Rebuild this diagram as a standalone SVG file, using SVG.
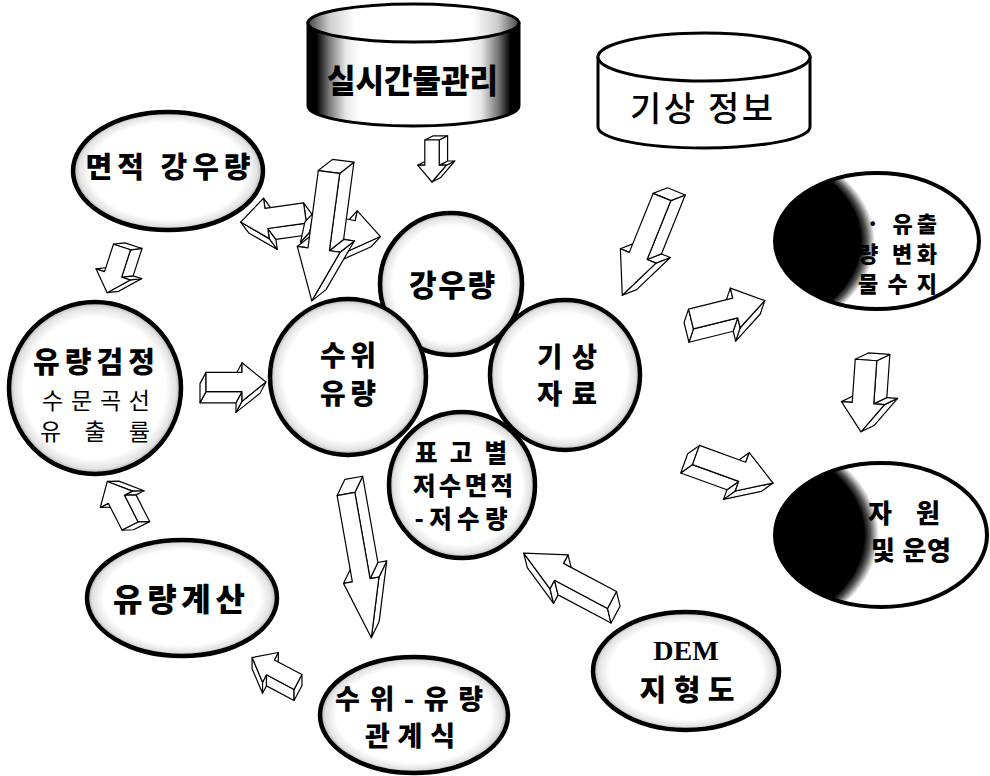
<svg xmlns="http://www.w3.org/2000/svg" width="990" height="776" viewBox="0 0 990 776">
<style>
.kb{font-family:"Noto Sans CJK KR","Noto Sans",sans-serif;font-weight:900;fill:#000}
.kr{font-family:"Noto Sans CJK KR","Noto Sans",sans-serif;font-weight:400;fill:#000}
.km{font-family:"Noto Sans CJK KR","Noto Sans",sans-serif;font-weight:500;fill:#000}
.sb{font-family:"Liberation Serif",serif;font-weight:700;fill:#000}
.nd{fill:url(#rim);stroke:#000;stroke-width:4.5}
.dk{stroke:#000;stroke-width:4}
.arw path{fill:#fff;stroke:#000;stroke-width:1.2;stroke-linejoin:round;vector-effect:non-scaling-stroke}
</style>
<defs>
<radialGradient id="rim" cx="0.5" cy="0.5" r="0.5">
<stop offset="0" stop-color="#fff"/><stop offset="0.82" stop-color="#fff"/><stop offset="0.94" stop-color="#e2e2e2"/><stop offset="1" stop-color="#a8a8a8"/>
</radialGradient>
<radialGradient id="dark" cx="-0.3" cy="0.5" r="1">
<stop offset="0" stop-color="#000"/><stop offset="0.72" stop-color="#000"/><stop offset="0.75" stop-color="#555"/><stop offset="0.79" stop-color="#fff"/><stop offset="1" stop-color="#fff"/>
</radialGradient>
<linearGradient id="cyl" x1="0" x2="1" y1="0" y2="0">
<stop offset="0" stop-color="#000"/><stop offset="0.04" stop-color="#000"/><stop offset="0.1" stop-color="#777"/><stop offset="0.18" stop-color="#e8e8e8"/><stop offset="0.25" stop-color="#fff"/><stop offset="0.75" stop-color="#fff"/><stop offset="0.82" stop-color="#e8e8e8"/><stop offset="0.9" stop-color="#777"/><stop offset="0.96" stop-color="#000"/><stop offset="1" stop-color="#000"/>
</linearGradient>
<linearGradient id="cyltop" x1="0" x2="1" y1="0" y2="0">
<stop offset="0" stop-color="#444"/><stop offset="0.1" stop-color="#ccc"/><stop offset="0.22" stop-color="#fff"/><stop offset="0.78" stop-color="#fff"/><stop offset="0.9" stop-color="#ccc"/><stop offset="1" stop-color="#444"/>
</linearGradient>
<g id="arw" class="arw">
<path d="M60,-12L60,-24L50,-10L50,2Z"/>
<path d="M100,0L60,24L50,38L90,14Z"/>
<path d="M60,24L60,12L50,26L50,38Z"/>
<path d="M60,12L0,12L-10,26L50,26Z"/>
<path d="M0,12L0,-12L-10,2L-10,26Z"/>
<path d="M0,-12L60,-12L60,-24L100,0L60,24L60,12L0,12Z"/>
</g>
</defs>
<rect width="990" height="776" fill="#fff"/>

<g id="n-realtime">
<path d="M308,23 L308,106 A105.5,20 0 0 0 519,106 L519,23 Z" fill="url(#cyl)" stroke="#000" stroke-width="3"/>
<ellipse cx="413.5" cy="23" rx="105.5" ry="19" fill="url(#cyltop)" stroke="#000" stroke-width="3"/>
<text class="kb" x="412.5" y="92.5" font-size="33" text-anchor="middle" textLength="171" lengthAdjust="spacingAndGlyphs">실시간물관리</text>
</g>

<g id="n-weather-info">
<path d="M598,57 L598,127 A106,21 0 0 0 810,127 L810,57 Z" fill="#fff" stroke="#000" stroke-width="3"/>
<ellipse cx="704" cy="57" rx="106" ry="24" fill="#fff" stroke="#000" stroke-width="3"/>
<text class="km" x="701.5" y="121" font-size="34" text-anchor="middle" textLength="143">기상 정보</text>
</g>

<g id="n-area-rain">
<ellipse class="nd" cx="168" cy="171" rx="95" ry="59"/>
<text class="kb" x="168" y="177.5" font-size="29" text-anchor="middle" textLength="165">면적 강우량</text>
</g>

<g id="n-flow-check">
<circle class="nd" cx="95" cy="388" r="86"/>
<text class="kb" x="94" y="372.5" font-size="29" text-anchor="middle" textLength="122">유량검정</text>
<text class="kr" x="96" y="408.7" font-size="23" text-anchor="middle" textLength="108">수문곡선</text>
<text class="kr" x="95" y="439.7" font-size="23" text-anchor="middle" textLength="110">유 출 률</text>
</g>

<g id="n-flow-calc">
<ellipse class="nd" cx="182" cy="598" rx="95" ry="58"/>
<text class="kb" x="179" y="611" font-size="32" text-anchor="middle" textLength="132">유량계산</text>
</g>

<g id="n-relation">
<ellipse class="nd" cx="414" cy="715" rx="94" ry="58"/>
<text class="kb" x="409" y="709" font-size="27" text-anchor="middle" textLength="148">수위-유량</text>
<text class="kb" x="410" y="746" font-size="27" text-anchor="middle" textLength="90">관계식</text>
</g>

<g id="n-dem">
<ellipse class="nd" cx="686" cy="671" rx="93" ry="59"/>
<text class="sb" x="686" y="660" font-size="28" text-anchor="middle">DEM</text>
<text class="kb" x="687" y="701" font-size="29" text-anchor="middle" textLength="95">지형도</text>
</g>

<g id="n-rain">
<circle class="nd" cx="451" cy="284" r="71"/>
<text class="kb" x="452" y="296" font-size="30" text-anchor="middle" textLength="86">강우량</text>
</g>

<g id="n-level">
<circle class="nd" cx="348" cy="377" r="78"/>
<text class="kb" x="348" y="365.5" font-size="28" text-anchor="middle" textLength="56">수위</text>
<text class="kb" x="348" y="403.5" font-size="28" text-anchor="middle" textLength="56">유량</text>
</g>

<g id="n-weather">
<circle class="nd" cx="565" cy="375" r="75"/>
<text class="kb" x="567" y="366.5" font-size="27.5" text-anchor="middle" textLength="60">기상</text>
<text class="kb" x="567" y="403.5" font-size="27.5" text-anchor="middle" textLength="60">자료</text>
</g>

<g id="n-elev">
<circle class="nd" cx="462" cy="485" r="73"/>
<text class="kb" x="461" y="462" font-size="24.5" text-anchor="middle" textLength="92">표고별</text>
<text class="kb" x="463" y="495" font-size="24.5" text-anchor="middle" textLength="100">저수면적</text>
<text class="kb" x="461" y="528" font-size="24.5" text-anchor="middle" textLength="93">-저수량</text>
</g>

<g id="n-runoff">
<ellipse class="dk" cx="877" cy="241" rx="102" ry="68" fill="url(#dark)"/>
<text class="kb" x="866" y="231.5" font-size="22" textLength="71">· 유출</text>
<text class="kb" x="858" y="261.5" font-size="22" textLength="79">량 변화</text>
<text class="kb" x="858" y="291.5" font-size="22" textLength="79">물수지</text>
</g>

<g id="n-resource">
<ellipse class="dk" cx="881" cy="535" rx="106" ry="72" fill="url(#dark)"/>
<text class="kb" x="868" y="523" font-size="26" textLength="72">자 원</text>
<text class="kb" x="871" y="560" font-size="26" textLength="80">및 운영</text>
</g>

<g id="connectors">
<use href="#arw" transform="translate(432,140) rotate(90) scale(0.42,-0.6)"/>
<use href="#arw" transform="translate(662,197) rotate(112) scale(1.06,-0.8)"/>
<use href="#arw" transform="translate(305,213) rotate(172) scale(0.65,-0.85)"/>
<use href="#arw" transform="translate(312,222) rotate(12) scale(0.7,0.85)"/>
<use href="#arw" transform="translate(329,172) rotate(97.6) scale(1.3,-0.9)"/>
<use href="#arw" transform="translate(122,247) rotate(108) scale(0.48,-0.75)"/>
<use href="#arw" transform="translate(206,382) scale(0.6,0.8)"/>
<use href="#arw" transform="translate(130,526) rotate(243) scale(0.5,0.75)"/>
<use href="#arw" transform="translate(298,682) rotate(208) scale(0.52,-0.7)"/>
<use href="#arw" transform="translate(346,494) rotate(80) scale(1.46,-0.75)"/>
<use href="#arw" transform="translate(612,600) rotate(208) scale(1.0,-0.8)"/>
<use href="#arw" transform="translate(691,319) rotate(-14) scale(0.76,0.85)"/>
<use href="#arw" transform="translate(866,360) rotate(94) scale(0.72,-0.9)"/>
<use href="#arw" transform="translate(696,455) rotate(20) scale(0.82,0.85)"/>
</g>
</svg>
